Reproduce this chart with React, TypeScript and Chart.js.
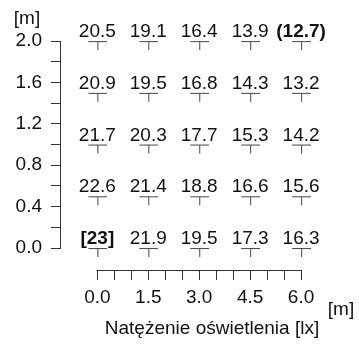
import React, { useEffect, useRef } from "react";
import { Chart, registerables } from "chart.js";

Chart.register(...registerables);

const xPositions = [0, 1.5, 3, 4.5, 6];
const yPositions = [2, 1.5, 1, 0.5, 0];
const rowY20 = [20.5, 19.1, 16.4, 13.9, 12.7];
const rowY15 = [20.9, 19.5, 16.8, 14.3, 13.2];
const rowY10 = [21.7, 20.3, 17.7, 15.3, 14.2];
const rowY05 = [22.6, 21.4, 18.8, 16.6, 15.6];
const rowY00 = [23, 21.9, 19.5, 17.3, 16.3];
const rows = [rowY20, rowY15, rowY10, rowY05, rowY00];

const xTickValues = [0, 0.5, 1, 1.5, 2, 2.5, 3, 3.5, 4, 4.5, 5, 5.5, 6];
const xTickLabels = ["0.0", "1.5", "3.0", "4.5", "6.0"];
const yTickValues = [0, 0.2, 0.4, 0.6, 0.8, 1, 1.2, 1.4, 1.6, 1.8, 2];
const yTickLabels = ["0.0", "0.4", "0.8", "1.2", "1.6", "2.0"];

const xTitle = "Natężenie oświetlenia [lx]";
const unitLabel = "[m]";

const FONT = "'Liberation Sans', Arial, sans-serif";
const AXIS_COLOR = "#333";
const TEXT_COLOR = "#111";

const allValues = rows.flat();
const maxV = Math.max(...allValues);
const minV = Math.min(...allValues);

function fmt(v: number): string {
  if (v === maxV) return "[" + String(v) + "]";
  if (v === minV) return "(" + v.toFixed(1) + ")";
  return v.toFixed(1);
}

export default function App() {
  const ref = useRef<HTMLCanvasElement | null>(null);

  useEffect(() => {
    if (!ref.current) return;

    const marker = document.createElement("canvas");
    marker.width = 20;
    marker.height = 20;
    const mctx = marker.getContext("2d")!;
    mctx.fillStyle = "#444";
    mctx.fillRect(1, 10, 19, 1);
    mctx.fillRect(10, 10, 1, 9);

    const points: { x: number; y: number; v: number }[] = [];
    rows.forEach((row, ri) => {
      row.forEach((v, ci) => {
        points.push({ x: xPositions[ci], y: yPositions[ri], v });
      });
    });

    const decor = {
      id: "decor",
      afterDraw(chart: any) {
        const ctx = chart.ctx;
        const xs = chart.scales.x;
        const ys = chart.scales.y;
        ctx.save();
        ctx.strokeStyle = AXIS_COLOR;
        ctx.lineWidth = 1;
        const ax = Math.round(chart.chartArea.left) - 0.5;
        ctx.beginPath();
        ctx.moveTo(ax, Math.round(ys.getPixelForValue(0)) + 0.5);
        ctx.lineTo(ax, Math.round(ys.getPixelForValue(2)) + 0.5);
        ctx.stroke();
        const ay = Math.round(chart.chartArea.bottom) + 0.5;
        ctx.beginPath();
        ctx.moveTo(Math.round(xs.getPixelForValue(0)) - 0.5, ay);
        ctx.lineTo(Math.round(xs.getPixelForValue(6)) + 0.5, ay);
        ctx.stroke();

        ctx.fillStyle = TEXT_COLOR;
        ctx.font = `19px ${FONT}`;
        ctx.textBaseline = "alphabetic";
        ctx.textAlign = "center";
        ctx.fillText(unitLabel, 27, 24);
        ctx.fillText(unitLabel, 341, 315);
        ctx.fillText(xTitle, 212, 334);

        const meta = chart.getDatasetMeta(0);
        meta.data.forEach((el: any, i: number) => {
          const v = points[i].v;
          const bold = v === maxV || v === minV;
          ctx.font = `${bold ? "bold " : ""}19px ${FONT}`;
          ctx.fillText(fmt(v), el.x, el.y - 4);
        });
        ctx.restore();
      },
    };

    const chart = new Chart(ref.current, {
      type: "scatter",
      data: {
        datasets: [
          {
            data: points,
            pointStyle: marker as any,
            pointRadius: 5,
            showLine: false,
          },
        ],
      },
      options: {
        animation: false,
        responsive: false,
        devicePixelRatio: 1,
        layout: { padding: { top: 20, right: 7, bottom: 0, left: 0 } },
        plugins: { legend: { display: false }, tooltip: { enabled: false } },
        scales: {
          x: {
            type: "linear",
            min: -1.07,
            max: 7.5,
            afterBuildTicks: (s: any) => {
              s.ticks = xTickValues.map((v) => ({ value: v }));
            },
            afterFit: (s: any) => {
              s.height = 75;
            },
            grid: {
              display: true,
              drawOnChartArea: false,
              drawTicks: true,
              tickLength: 10,
              color: AXIS_COLOR,
            },
            border: { display: false },
            ticks: {
              autoSkip: false,
              maxRotation: 0,
              padding: 6,
              color: TEXT_COLOR,
              font: { family: FONT, size: 19 },
              callback: (v: any) => {
                const n = Number(v);
                const idx = xPositions.indexOf(Math.round(n * 10) / 10);
                return idx >= 0 ? xTickLabels[idx] : "";
              },
            },
          },
          y: {
            type: "linear",
            min: -0.2126,
            max: 2.2,
            afterBuildTicks: (s: any) => {
              s.ticks = yTickValues.map((v) => ({ value: v }));
            },
            afterFit: (s: any) => {
              s.width = 61;
            },
            grid: {
              display: true,
              drawOnChartArea: false,
              drawTicks: true,
              tickLength: 10,
              color: AXIS_COLOR,
            },
            border: { display: false },
            ticks: {
              autoSkip: false,
              padding: 9,
              color: TEXT_COLOR,
              font: { family: FONT, size: 19 },
              callback: (v: any) => {
                const n = Math.round(Number(v) * 10) / 10;
                const k = Math.round(n / 0.4 * 100) / 100;
                if (Number.isInteger(k)) return yTickLabels[k];
                return "";
              },
            },
          },
        },
      },
      plugins: [decor],
    });

    return () => chart.destroy();
  }, []);

  return (
    <div style={{ position: "fixed", left: 0, top: 0, width: 359, height: 345, background: "#fff" }}>
      <canvas ref={ref} width={359} height={345} />
    </div>
  );
}
